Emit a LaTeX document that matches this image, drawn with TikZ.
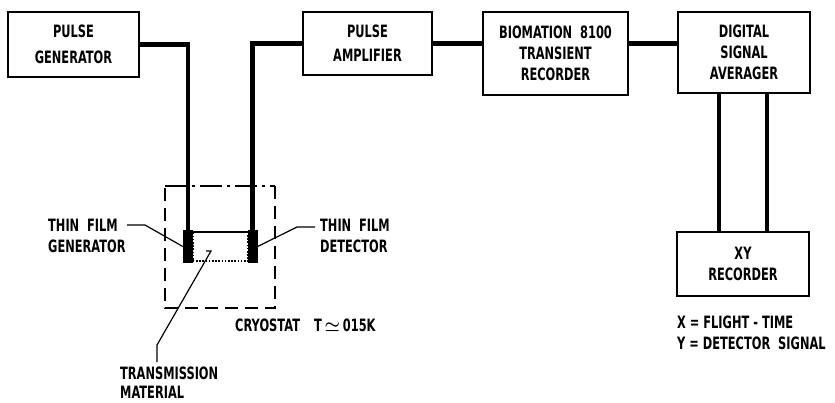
\documentclass[tikz,border=0pt]{standalone}
\usepackage{fontspec}
\usepackage{bm}
\newfontfamily\lbl{DejaVu Sans}[FakeStretch=0.67]
\newcommand\lblf{\lbl\bfseries\fontsize{17}{21}\selectfont}
\begin{document}
\begin{tikzpicture}[x=1pt,y=-1pt,
  every node/.style={font=\lblf, inner sep=0pt},
  box/.style={draw, line width=1.8pt, align=center},
  wire/.style={line width=4.5pt},
  leader/.style={line width=1.2pt},
  dashside/.style={line width=1.8pt, dash pattern=on 13pt off 7pt},
  dashdotside/.style={line width=1.8pt, dash pattern=on 22pt off 5pt on 3pt off 5pt},
  block/.style={fill=black, minimum width=10pt, minimum height=33pt}
]
\useasboundingbox (0,0) rectangle (835,402);

% boxes
\node[box, minimum width=131pt, minimum height=65pt] (pg) at (73.5,44.5) {PULSE\\[5pt]GENERATOR};
\node[box, minimum width=129pt, minimum height=63pt] (pa) at (367.5,43.5) {PULSE\\[3pt]AMPLIFIER};
\node[box, minimum width=145pt, minimum height=83pt] (bio) at (555.5,53.5) {BIOMATION\ \ 8100\\TRANSIENT\\RECORDER};
\node[box, minimum width=132pt, minimum height=81pt] (av) at (744,52.5) {DIGITAL\\SIGNAL\\AVERAGER};
\node[box, minimum width=132pt, minimum height=64pt] (xy) at (743,264) {XY\\RECORDER};

% sample
\node[block] (gl) at (188,246.5) {};
\node[block] (dr) at (252.5,246.5) {};
\node[minimum width=55pt, minimum height=29pt] (tm) at (220.5,246.5) {};
\draw[line width=1.8pt] (tm.north west) -- (tm.north east);
\draw[line width=1.6pt, dash pattern=on 1.6pt off 1.6pt] (tm.north east) -- (tm.south east) -- (tm.south west) -- (tm.north west);

% cryostat
\node[minimum width=110pt, minimum height=122pt] (cr) at (220,247) {};
\draw[dashdotside] (cr.north west) -- (cr.north east);
\draw[dashside] (cr.north east) -- (cr.south east) -- (cr.south west) -- (cr.north west);

% wires
\draw[wire] (pg.east) -| (gl.north);
\draw[wire] (pa.west) -| (dr.north);
\draw[wire] (pa.east) -- (pa.east -| bio.west);
\draw[wire] (bio.east |- pa.east) -- (pa.east -| av.west);
\draw[wire] ([xshift=-25pt]av.south) -- ([xshift=-24pt]xy.north);
\draw[wire] ([xshift=23pt]av.south) -- ([xshift=24pt]xy.north);

% labels
\node[anchor=west, align=left] (tfg) at (48,236) {THIN\ \ FILM\\GENERATOR};
\node[anchor=west, align=left, font=\lbl\bfseries\fontsize{17}{19}\selectfont] (tml) at (120,383) {TRANSMISSION\\MATERIAL};
\node[anchor=west, align=left] (tfd) at (320,236) {THIN\ \ FILM\\DETECTOR};
\node[anchor=west] (cryl) at (235,325) {CRYOSTAT\hspace{14pt}T\,$\bm{\simeq}$\,015K};
\node[anchor=west, align=left] (xyl) at (677,333) {X = FLIGHT - TIME\\Y = DETECTOR\ \ SIGNAL};

% leaders
\coordinate (g0) at (127,225);
\coordinate (g1) at (145,225);
\draw[leader] (g0) -- (g1) -- (gl.west);
\coordinate (d0) at (315,227);
\coordinate (d1) at (297,227);
\draw[leader] (d0) -- (d1) -- (dr.east);
\coordinate (t0) at (206,251);
\coordinate (t1) at (211,251);
\coordinate (t2) at (157,345);
\coordinate (t3) at (157,362);
\draw[leader] (t0) -- (t1) -- (t2) -- (t3);
\end{tikzpicture}
\end{document}
